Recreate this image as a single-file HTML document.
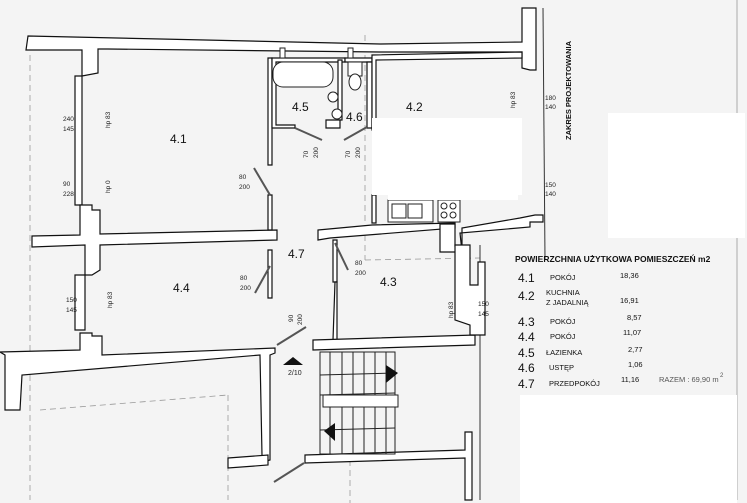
<!DOCTYPE html>
<html><head><meta charset="utf-8"><style>
html,body{margin:0;padding:0;background:#f4f4f4;}
svg{display:block;font-family:"Liberation Sans",sans-serif;}
</style></head><body>
<svg width="747" height="503" viewBox="0 0 747 503" xmlns="http://www.w3.org/2000/svg">
<rect width="747" height="503" fill="#f4f4f4"/>
<g fill="none" stroke="#999" stroke-width="0.8" stroke-dasharray="6,4">
<line x1="30" y1="55" x2="30" y2="500"/>
<line x1="365" y1="35" x2="365" y2="260"/>
<line x1="365" y1="260" x2="480" y2="258"/>
<line x1="40" y1="410" x2="228" y2="395"/>
<line x1="228" y1="395" x2="228" y2="500"/>
<line x1="350" y1="460" x2="350" y2="503"/>
</g>
<line x1="737" y1="0" x2="737" y2="500" stroke="#aaa" stroke-width="1"/>
<line x1="543" y1="8" x2="545" y2="260" stroke="#333" stroke-width="1"/>
<line x1="480" y1="245" x2="480" y2="500" stroke="#333" stroke-width="1"/>
<g fill="#fff" stroke="#111" stroke-width="1.2">
<polygon points="28,36 380,44 522,42 522,8 536,8 536,70 530,70 522,68 522,52 380,52 108,49 98,49 98,73 82,76 82,50 26,50"/>
<polygon points="75,76 82,76 82,205 75,205"/>
<polygon points="32,236 80,235 80,205 92,205 92,210 100,210 100,234 277,230 277,240 100,245 100,270 92,275 85,275 85,245 32,247"/>
<polygon points="75,275 85,275 85,330 75,330"/>
<polygon points="0,352 80,350 80,333 92,333 92,336 102,336 102,355 275,348 275,353 270,355 270,460 262,462 262,455 260,355 22,375 20,410 5,410 5,355"/>
<polygon points="228,458 268,455 268,465 228,468"/>
<polygon points="268,58 272,58 272,165 268,165"/>
<polygon points="268,195 272,195 272,230 268,230"/>
<polygon points="268,250 272,250 272,298 268,298"/>
<polygon points="272,58 345,58 345,62 276,62 276,125 295,125 295,128 272,128"/>
<polygon points="338,60 342,60 342,120 338,120"/>
<polygon points="326,120 340,120 340,128 326,128"/>
<polygon points="345,58 372,58 372,62 345,62"/>
<polygon points="367,62 372,62 372,128 367,128"/>
<polygon points="372,55 522,52 522,58 376,60 376,130 372,130"/>
<polygon points="372,195 376,195 376,223 372,223"/>
<polygon points="318,230 372,225 455,223 455,228 330,238 318,240"/>
<polygon points="440,224 455,224 455,246 462,246 462,228 520,218 535,215 543,215 543,222 530,222 530,227 460,233 462,252 440,252"/>
<polygon points="333,240 337,240 337,282 333,282"/>
<polygon points="335,282 337,282 337,340 333,340"/>
<polygon points="313,340 475,335 475,345 313,350"/>
<polygon points="455,245 470,245 470,285 478,285 478,262 485,262 485,335 470,335 470,325 455,320"/>
<polygon points="305,455 465,450 465,432 472,432 472,500 465,500 465,458 305,463"/>
</g>
<g fill="#fff" stroke="#222" stroke-width="1">
<rect x="273" y="62" width="60" height="25" rx="10"/>
<rect x="280" y="48" width="5" height="10"/><rect x="348" y="48" width="5" height="10"/>
<rect x="348" y="62" width="14" height="14"/><ellipse cx="355" cy="82" rx="6" ry="8"/>
<circle cx="333" cy="97" r="5"/><circle cx="337" cy="114" r="5"/>
<rect x="388" y="200" width="45" height="22"/><rect x="392" y="204" width="14" height="14"/><rect x="408" y="204" width="14" height="14"/>
<rect x="438" y="200" width="22" height="22"/>
<circle cx="444" cy="206" r="3"/><circle cx="453" cy="206" r="3"/><circle cx="444" cy="215" r="3"/><circle cx="453" cy="215" r="3"/>
</g>
<g stroke="#222" stroke-width="1" fill="none">
<rect x="320" y="352" width="75" height="102"/>
<line x1="320" y1="375" x2="395" y2="373"/><line x1="320" y1="395" x2="395" y2="393"/>
<line x1="320" y1="430" x2="395" y2="428"/>
<line x1="330" y1="352" x2="330" y2="454"/><line x1="342" y1="352" x2="342" y2="454"/><line x1="353" y1="352" x2="353" y2="454"/><line x1="364" y1="352" x2="364" y2="454"/><line x1="375" y1="352" x2="375" y2="454"/><line x1="386" y1="352" x2="386" y2="454"/>
<rect x="323" y="395" width="75" height="12" fill="#fff"/>
</g>
<polygon points="386,365 398,373 386,383" fill="#111"/>
<polygon points="335,423 324,431 335,441" fill="#111"/>
<polygon points="283,365 293,357 303,365" fill="#111"/>
<g stroke="#555" stroke-width="2" fill="none">
<line x1="254" y1="168" x2="270" y2="195"/>
<line x1="295" y1="128" x2="322" y2="140"/>
<line x1="344" y1="140" x2="367" y2="127"/>
<line x1="255" y1="293" x2="270" y2="266"/>
<line x1="335" y1="243" x2="348" y2="270"/>
<line x1="277" y1="345" x2="306" y2="327"/>
<line x1="274" y1="482" x2="304" y2="463"/>
</g>
<rect x="372" y="118" width="150" height="77" fill="#fff"/>
<rect x="388" y="118" width="130" height="82" fill="#fff"/>
<rect x="608" y="113" width="137" height="125" fill="#fff"/>
<rect x="520" y="395" width="217" height="108" fill="#fff"/>
<g font-size="12" fill="#111">
<text x="170" y="143">4.1</text><text x="406" y="111">4.2</text>
<text x="380" y="286">4.3</text><text x="173" y="292">4.4</text>
<text x="292" y="111">4.5</text><text x="346" y="121">4.6</text>
<text x="288" y="258">4.7</text>
</g>
<g font-size="6.5" fill="#222">
<text x="63" y="121">240</text><text x="63" y="131">145</text>
<text x="63" y="186">90</text><text x="63" y="196">228</text>
<text x="66" y="302">150</text><text x="66" y="312">145</text>
<text x="478" y="306">150</text><text x="478" y="316">145</text>
<text x="239" y="179">80</text><text x="239" y="189">200</text>
<text x="240" y="280">80</text><text x="240" y="290">200</text>
<text x="355" y="265">80</text><text x="355" y="275">200</text>
<text x="288" y="375" font-size="7">2/10</text>
<text transform="translate(110,128) rotate(-90)">hp 83</text>
<text transform="translate(110,193) rotate(-90)">hp 0</text>
<text transform="translate(112,308) rotate(-90)">hp 83</text>
<text transform="translate(453,318) rotate(-90)">hp 83</text>
<text transform="translate(515,108) rotate(-90)">hp 83</text>
<text transform="translate(308,158) rotate(-90)">70</text><text transform="translate(318,158) rotate(-90)">200</text>
<text transform="translate(350,158) rotate(-90)">70</text><text transform="translate(360,158) rotate(-90)">200</text>
<text transform="translate(293,322) rotate(-90)">90</text><text transform="translate(302,325) rotate(-90)">200</text>
<text x="545" y="100">180</text><text x="545" y="109">140</text>
<text x="545" y="187">150</text><text x="545" y="196">140</text>
</g>
<text transform="translate(571,140) rotate(-90)" font-size="7.5" font-weight="bold" fill="#111">ZAKRES PROJEKTOWANIA</text>
<g fill="#111">
<text x="515" y="262" font-size="8.5" font-weight="bold">POWIERZCHNIA UŻYTKOWA POMIESZCZEŃ m2</text>
<g font-size="12"><text x="518" y="282">4.1</text><text x="518" y="300">4.2</text><text x="518" y="326">4.3</text><text x="518" y="341">4.4</text><text x="518" y="357">4.5</text><text x="518" y="372">4.6</text><text x="518" y="388">4.7</text></g>
<g font-size="7.5"><text x="550" y="280">POKÓJ</text><text x="546" y="295">KUCHNIA</text><text x="546" y="305">Z JADALNIĄ</text><text x="550" y="324">POKÓJ</text><text x="550" y="339">POKÓJ</text><text x="546" y="355">ŁAZIENKA</text><text x="549" y="370">USTĘP</text><text x="549" y="386">PRZEDPOKÓJ</text>
<text x="620" y="278">18,36</text><text x="620" y="303">16,91</text><text x="627" y="320">8,57</text><text x="623" y="335">11,07</text><text x="628" y="352">2,77</text><text x="628" y="367">1,06</text><text x="621" y="382">11,16</text>
<text x="659" y="382" fill="#555">RAZEM : 69,90 m</text><text x="720" y="377" font-size="6" fill="#555">2</text></g>
</g>
</svg>
</body></html>
